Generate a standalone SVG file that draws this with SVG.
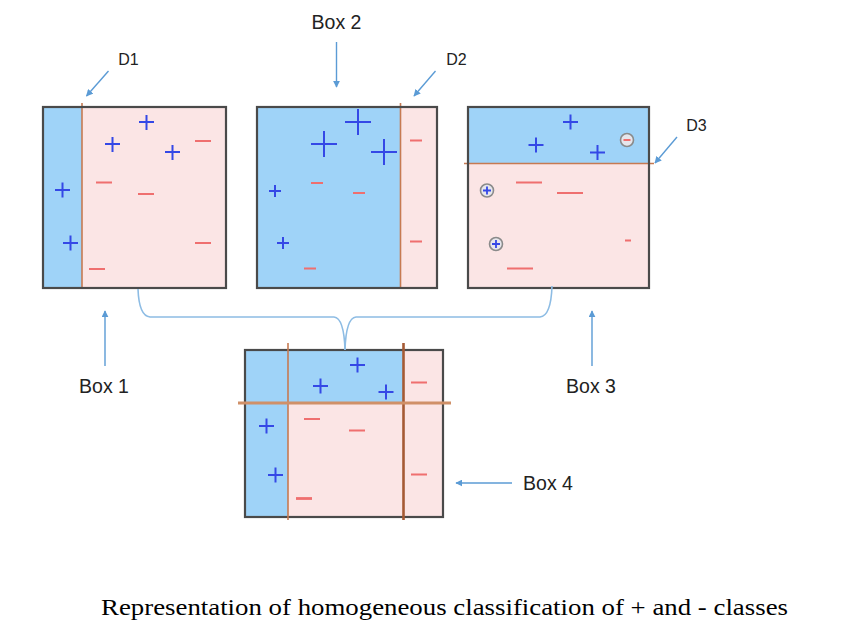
<svg xmlns="http://www.w3.org/2000/svg" width="841" height="642" viewBox="0 0 841 642">
<style>
.blue{fill:#9fd3f8}
.pink{fill:#fbe5e5}
.frame{fill:none;stroke:#4a4a4a;stroke-width:2.2}
.div{stroke:#c67a52;stroke-width:1.6;fill:none}
.divk{stroke:#a55a34;stroke-width:2.6;fill:none}
.divh{stroke:#d09068;stroke-width:3;fill:none}
.p{stroke:#3448e6;stroke-width:2;fill:none}
.m{stroke:#ef6f6f;stroke-width:2;fill:none}
.ring{fill:#e6e6ec;stroke:#8a8a8a;stroke-width:1.6}
.arr{stroke:#5b9bd5;stroke-width:1.4;fill:none;marker-end:url(#ah)}
.brace{stroke:#8dbce4;stroke-width:1.6;fill:none}
.lbl{font-family:"Liberation Sans","DejaVu Sans",sans-serif;fill:#222;text-anchor:middle}
.cap{font-family:"Liberation Serif","DejaVu Serif",serif;fill:#000;font-size:24px}
</style>
<defs>
<marker id="ah" viewBox="0 0 10 10" refX="9" refY="5" markerWidth="7" markerHeight="7" orient="auto" markerUnits="userSpaceOnUse">
<path d="M0,0 L10,5 L0,10 z" fill="#5b9bd5"/>
</marker>
</defs>

<g id="box1">
<rect class="pink" x="43" y="107" width="183" height="181"/>
<rect class="blue" x="43" y="107" width="39" height="181"/>
<line class="div" x1="82" y1="103" x2="82" y2="288"/>
<rect class="frame" x="43" y="107" width="183" height="181"/>
<path class="p" d="M139,122 h15 M146.5,115 v15 M105,144 h15 M112.5,137 v15 M165,152 h15 M172.5,145 v15 M55,190 h15 M62.5,182.5 v15 M63,243 h15 M70.5,235.5 v15"/>
<path class="m" d="M195,141 h16 M96,182.5 h16 M138,194 h16 M195,243 h16 M89,269 h16"/>
</g>

<g id="box2">
<rect class="pink" x="257" y="107" width="180" height="181"/>
<rect class="blue" x="257" y="107" width="143" height="181"/>
<line class="div" x1="400.5" y1="103" x2="400.5" y2="288"/>
<rect class="frame" x="257" y="107" width="180" height="181"/>
<path class="p" d="M345,122 h26 M358,109 v26 M311,144 h26 M324,131 v26 M371,152 h26 M384,139 v26 M269,191 h12 M275,185 v12 M277,243 h12 M283,237 v12"/>
<path class="m" d="M410,140.5 h12 M311,183 h12 M353,193 h12 M410,241.5 h12 M304,268.5 h12"/>
</g>

<g id="box3">
<rect class="pink" x="468" y="107" width="181" height="181"/>
<rect class="blue" x="468" y="107" width="181" height="56"/>
<line class="div" x1="464" y1="163.5" x2="654" y2="163.5"/>
<rect class="frame" x="468" y="107" width="181" height="181"/>
<path class="p" d="M563,122 h15 M570.5,114.5 v15 M528.5,145 h15 M536,137.5 v15 M590,152.5 h15 M597.5,145 v15"/>
<circle class="ring" cx="627" cy="140" r="6.5"/>
<circle class="ring" cx="487" cy="190.5" r="6.5"/>
<circle class="ring" cx="496" cy="244" r="6.5"/>
<path class="m" d="M623.5,140 h7"/>
<path class="p" d="M483,190.5 h8 M487,186.5 v8 M492,244 h8 M496,240 v8" style="stroke-width:1.8"/>
<path class="m" d="M516,182.5 h26 M557,193 h26 M625,240.5 h6 M507,268.5 h26"/>
</g>

<g id="box4">
<rect class="pink" x="245" y="350" width="198" height="167"/>
<rect class="blue" x="245" y="350" width="43" height="167"/>
<rect class="blue" x="288" y="350" width="115" height="53"/>
<rect class="frame" x="245" y="350" width="198" height="167"/>
<line class="div" x1="288" y1="343" x2="288" y2="520"/>
<line class="divk" x1="403.5" y1="343" x2="403.5" y2="520"/>
<line class="divh" x1="238" y1="403" x2="451" y2="403"/>
<path class="p" d="M350,365 h15 M357.5,357.5 v15 M313,386 h15 M320.5,378.5 v15 M378.5,392 h15 M386,384.5 v15 M259,426 h15 M266.5,418.5 v15 M268,475 h15 M275.5,467.5 v15"/>
<path class="m" d="M411,382.5 h16 M304,419 h16 M349,430.5 h16 M411,474.5 h16"/>
<path class="m" d="M296,498.5 h16" style="stroke-width:2.8"/>
</g>

<g id="label-d1"><text class="lbl" x="128.5" y="64.5" font-size="16">D1</text></g>
<g id="label-box2"><text class="lbl" x="336.5" y="28.5" font-size="19.5">Box 2</text></g>
<g id="label-d2"><text class="lbl" x="456.5" y="64.5" font-size="16">D2</text></g>
<g id="label-d3"><text class="lbl" x="696.5" y="131" font-size="16">D3</text></g>
<g id="label-box1"><text class="lbl" x="104" y="393" font-size="19.5">Box 1</text></g>
<g id="label-box3"><text class="lbl" x="591" y="393" font-size="19.5">Box 3</text></g>
<g id="label-box4"><text class="lbl" x="548" y="489.5" font-size="19.5">Box 4</text></g>

<g id="connectors">
<line class="arr" x1="108.5" y1="71" x2="86.5" y2="96"/>
<line class="arr" x1="336.5" y1="42" x2="336.5" y2="87"/>
<line class="arr" x1="435.5" y1="71" x2="414" y2="96"/>
<line class="arr" x1="677" y1="137" x2="655" y2="163"/>
<line class="arr" x1="105" y1="366" x2="105" y2="311"/>
<line class="arr" x1="592" y1="366" x2="592" y2="311"/>
<line class="arr" x1="512" y1="483" x2="456" y2="483"/>
<path class="brace" d="M138,289 Q139,316 150,317 L334,317 Q344,318 345,350"/>
<path class="brace" d="M552,286 Q551,316 540,317 L356,317 Q346,318 345,350"/>
</g>

<g id="caption"><text class="cap" x="101" y="615" textLength="687" lengthAdjust="spacingAndGlyphs">Representation of homogeneous classification of + and - classes</text></g>
</svg>
